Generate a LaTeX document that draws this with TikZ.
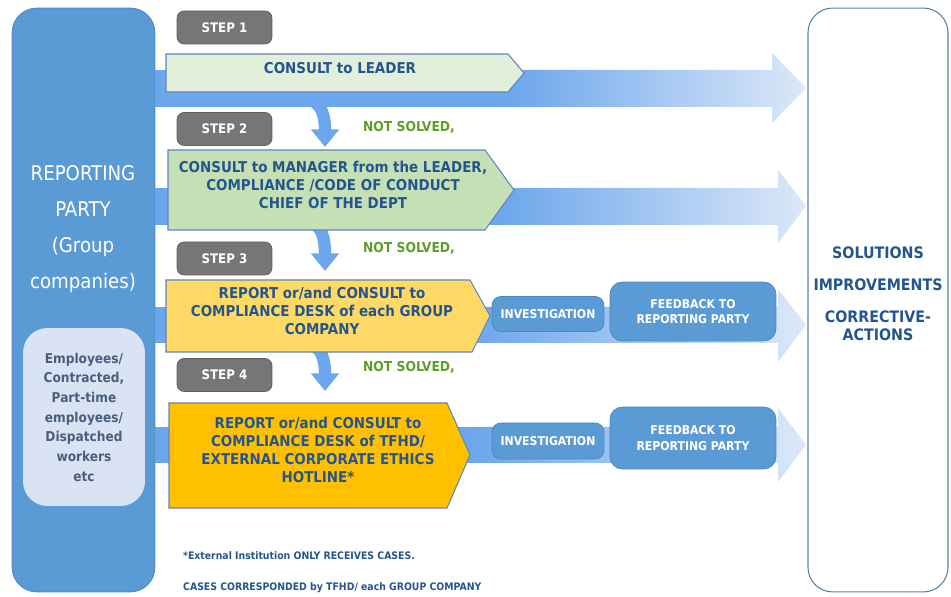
\documentclass[tikz,border=0pt]{standalone}
\usepackage{fontspec}
\setmainfont{DejaVu Sans Condensed}
\usetikzlibrary{arrows.meta,positioning}

\definecolor{partyblue}{HTML}{5B9BD5}
\definecolor{partyedge}{HTML}{4A86C0}
\definecolor{innerfill}{HTML}{DAE3F3}
\definecolor{innertext}{HTML}{4A5E7C}
\definecolor{stepgray}{HTML}{767676}
\definecolor{stepedge}{HTML}{5E5E5E}
\definecolor{bandstrong}{HTML}{6CA6EC}
\definecolor{bandpale}{HTML}{DCE8F8}
\definecolor{paleone}{HTML}{E2EFDA}
\definecolor{paletwo}{HTML}{C5E0B4}
\definecolor{yellowone}{HTML}{FFD966}
\definecolor{yellowtwo}{HTML}{FFC000}
\definecolor{boxedge}{HTML}{5E86BE}
\definecolor{txtblue}{HTML}{24558F}
\definecolor{notgreen}{HTML}{5E9E2C}
\definecolor{rightedge}{HTML}{5A7FA8}

\tikzset{
  boxtext/.style={text=txtblue, font=\bfseries\fontsize{8.5}{10.2}\selectfont, align=center},
  stepbox/.style={draw=stepedge, fill=stepgray, rounded corners=4pt, minimum width=1.9cm,
    minimum height=0.66cm, text=white, font=\bfseries\fontsize{7.5}{9}\selectfont},
  bluebox/.style={draw=partyedge, fill=partyblue, rounded corners=5pt, text=white,
    font=\bfseries\fontsize{6.9}{9}\selectfont, align=center},
  shapeline/.style={draw=boxedge, line width=0.6pt},
  notsolved/.style={text=notgreen, font=\bfseries\fontsize{7.8}{9}\selectfont},
  downarrow/.style={draw=bandstrong, line width=7pt, -{Triangle[width=15.5pt,length=10pt]}},
  footnote/.style={text=txtblue, font=\bfseries\fontsize{5.9}{7}\selectfont, anchor=west}
}

\begin{document}
\begin{tikzpicture}[x=0.02cm, y=-0.02cm]
    \useasboundingbox (0,0) rectangle (951,597);

    % reporting party on the left, outcome box on the right
    \node[draw=partyedge, fill=partyblue, rounded corners=14pt, minimum width=2.86cm,
      minimum height=11.68cm] (party) at (83.5,300) {};
    \node[draw=rightedge, line width=0.6pt, fill=white, rounded corners=14pt,
      minimum width=2.8cm, minimum height=11.68cm] (outcome) at (878,300) {};

    % curved "not solved" arrows between the steps
    \coordinate (c1s) at (311,100);
    \coordinate (c1e) at (325,147);
    \coordinate (c2s) at (311,222);
    \coordinate (c2e) at (325,271);
    \coordinate (c3s) at (311,344);
    \coordinate (c3e) at (325,391);
    \draw[downarrow] (c1s) .. controls (322,105) and (325,116) .. (c1e);
    \draw[downarrow] (c2s) .. controls (322,227) and (325,238) .. (c2e);
    \draw[downarrow] (c3s) .. controls (322,349) and (325,360) .. (c3e);

    % wide arrows fading to the right
    \fill[bandstrong] (155,70) -- (510,70) -- (510,107) -- (155,107) -- cycle;
    \shade[left color=bandstrong, right color=bandpale]
      (509,70) -- (772,70) -- (772,53) -- (806,88) -- (772,123) -- (772,107) -- (509,107) -- cycle;
    \fill[bandstrong] (155,188) -- (500,188) -- (500,225) -- (155,225) -- cycle;
    \shade[left color=bandstrong, right color=bandpale]
      (499,188) -- (778,188) -- (778,170) -- (806,206) -- (778,243) -- (778,225) -- (499,225) -- cycle;
    \fill[bandstrong] (155,307) -- (470,307) -- (470,343) -- (155,343) -- cycle;
    \shade[left color=bandstrong, right color=bandpale]
      (469,307) -- (778,307) -- (778,289) -- (806,325) -- (778,362) -- (778,343) -- (469,343) -- cycle;
    \fill[bandstrong] (155,427) -- (470,427) -- (470,463) -- (155,463) -- cycle;
    \shade[left color=bandstrong, right color=bandpale]
      (469,427) -- (778,427) -- (778,408) -- (806,445) -- (778,482) -- (778,463) -- (469,463) -- cycle;

    % the four step shapes
    \fill[paleone, shapeline] (166,54) -- (508,54) -- (524,73) -- (508,92) -- (166,92) -- cycle;
    \fill[paletwo, shapeline] (168,150) -- (485,150) -- (514,190) -- (485,230) -- (168,230) -- cycle;
    \fill[yellowone, shapeline] (166,280) -- (470,280) -- (490,316) -- (472,352) -- (166,352) -- cycle;
    \fill[yellowtwo, shapeline] (169,403) -- (447,403) -- (470,455) -- (447,508) -- (169,508) -- cycle;

    \node[boxtext] (leader) at (340,68) {CONSULT to LEADER};
    \node[boxtext] (manager) at (333,185)
      {CONSULT to MANAGER from the LEADER,\\COMPLIANCE /CODE OF CONDUCT\\CHIEF OF THE DEPT};
    \node[boxtext] (desk) at (322,311)
      {REPORT or/and CONSULT to\\COMPLIANCE DESK of each GROUP\\COMPANY};
    \node[boxtext] (hotline) at (318,450)
      {REPORT or/and CONSULT to\\COMPLIANCE DESK of TFHD/\\EXTERNAL CORPORATE ETHICS\\HOTLINE*};

    % step labels
    \node[stepbox] (step1) at (224.5,27.5) {STEP 1};
    \node[stepbox] (step2) at (224.5,129) {STEP 2};
    \node[stepbox] (step3) at (224.5,258.5) {STEP 3};
    \node[stepbox] (step4) at (224.5,375) {STEP 4};

    \node[notsolved] (ns1) at (409,127) {NOT SOLVED,};
    \node[notsolved] (ns2) at (409,248) {NOT SOLVED,};
    \node[notsolved] (ns3) at (409,367) {NOT SOLVED,};

    % investigation and feedback
    \node[bluebox, minimum width=2.24cm, minimum height=0.7cm] (inv1) at (548,314) {INVESTIGATION};
    \node[bluebox, minimum width=2.24cm, minimum height=0.72cm] (inv2) at (548,441) {INVESTIGATION};
    \node[bluebox, rounded corners=7pt, minimum width=3.32cm, minimum height=1.18cm] (fb1) at (693,311.5)
      {FEEDBACK TO\\REPORTING PARTY};
    \node[bluebox, rounded corners=7pt, minimum width=3.32cm, minimum height=1.24cm] (fb2) at (693,438)
      {FEEDBACK TO\\REPORTING PARTY};

    % texts of the side boxes
    \node[text=white, align=center, font=\fontsize{11.5}{20.4}\selectfont] (partytext) at (83,229)
      {REPORTING\\PARTY\\(Group\\companies)};
    \node[fill=innerfill, rounded corners=14pt, minimum width=2.44cm, minimum height=3.56cm,
      text=innertext, align=center, font=\bfseries\fontsize{7.7}{11.2}\selectfont] (staff) at (84,417)
      {Employees/\\Contracted,\\Part-time\\employees/\\Dispatched\\workers\\etc};
    \node[text=txtblue, align=center, font=\bfseries\fontsize{9}{10.2}\selectfont] (result) at (878,294)
      {SOLUTIONS\\[8pt]IMPROVEMENTS\\[8pt]CORRECTIVE-\\ACTIONS};

    % notes at the bottom
    \node[footnote] (note1) at (177,556) {*External Institution ONLY RECEIVES CASES.};
    \node[footnote] (note2) at (177,588) {CASES CORRESPONDED by TFHD/ each GROUP COMPANY};
\end{tikzpicture}
\end{document}
